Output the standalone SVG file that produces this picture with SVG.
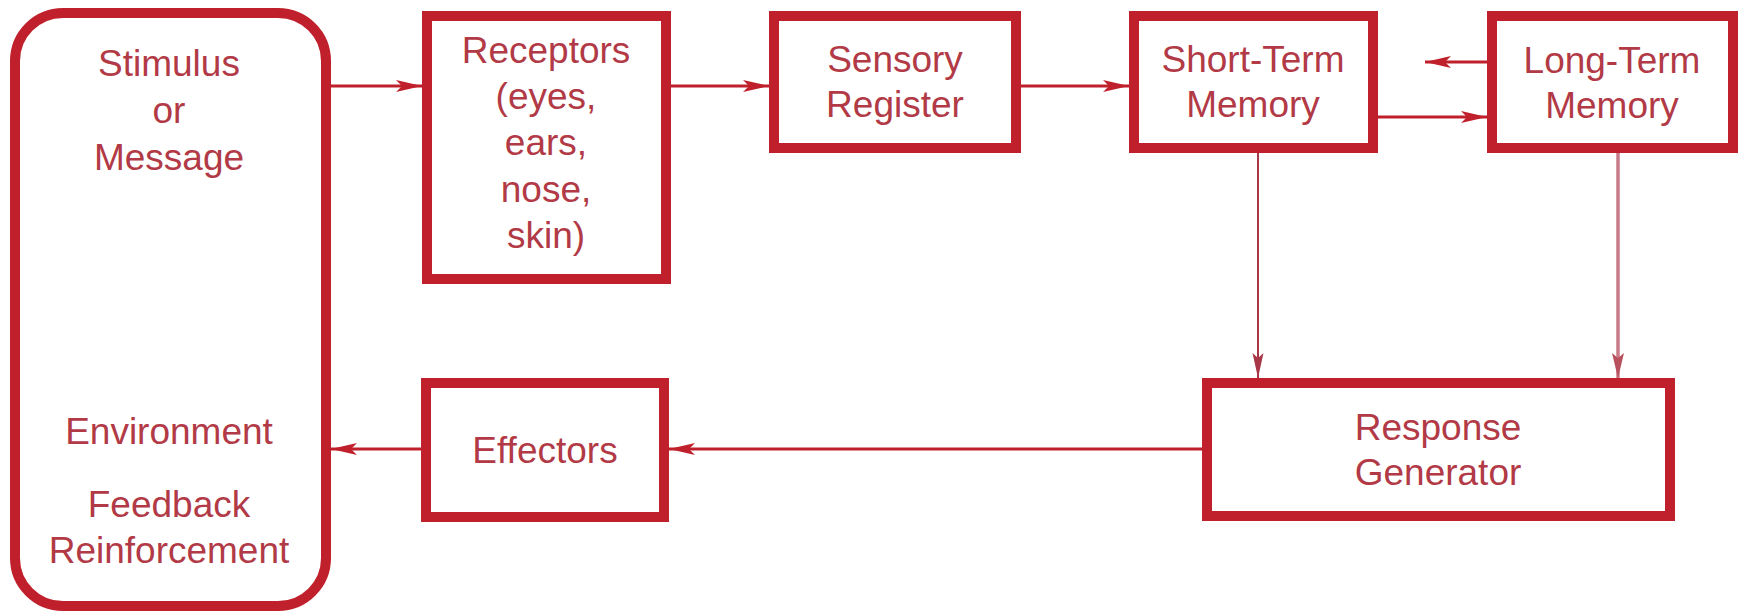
<svg xmlns="http://www.w3.org/2000/svg" width="1742" height="613" viewBox="0 0 1742 613">
<style>
.box{fill:#ffffff;stroke:#c0202b;stroke-width:10}
.t{font-family:"Liberation Sans",Arial,sans-serif;font-size:37px;fill:#b23a46;text-anchor:middle}
.c{fill:none;stroke:#c0202b;stroke-width:3}
.cv{fill:none;stroke:#a83848;stroke-width:2}
.cl{fill:none;stroke:#c87a86;stroke-width:3.5}
</style>
<defs>
<marker id="ah" markerUnits="userSpaceOnUse" markerWidth="28" markerHeight="14" refX="26" refY="6" orient="auto">
<path d="M0,0 L26,6 L0,12 L6,6 Z" fill="#c0202b"/>
</marker>
<marker id="av" markerUnits="userSpaceOnUse" markerWidth="28" markerHeight="14" refX="25" refY="5.5" orient="auto">
<path d="M0,0 L25,5.5 L0,11 L5,5.5 Z" fill="#a83848"/>
</marker>
<marker id="al" markerUnits="userSpaceOnUse" markerWidth="28" markerHeight="14" refX="25" refY="6" orient="auto">
<path d="M0,0 L25,6 L0,12 L5,6 Z" fill="#b8505e"/>
</marker>
</defs>
<rect width="1742" height="613" fill="#ffffff"/>
<g id="connectors">
<path class="c" d="M331,86 H422" marker-end="url(#ah)"/>
<path class="c" d="M671,86 H769" marker-end="url(#ah)"/>
<path class="c" d="M1021,86 H1129" marker-end="url(#ah)"/>
<path class="c" d="M1487,62 H1425" marker-end="url(#ah)"/>
<path class="c" d="M1378,117 H1487" marker-end="url(#ah)"/>
<path class="cv" d="M1258,153 V378" marker-end="url(#av)"/>
<path class="cl" d="M1618,153 V378" marker-end="url(#al)"/>
<path class="c" d="M1202,449 H669" marker-end="url(#ah)"/>
<path class="c" d="M421,449 H331" marker-end="url(#ah)"/>
</g>
<g id="stimulus">
<rect class="box" x="15" y="13" width="311" height="593" rx="48" ry="48"/>
<text class="t" x="169" y="76">Stimulus</text>
<text class="t" x="169" y="123">or</text>
<text class="t" x="169" y="170">Message</text>
<text class="t" x="169" y="444">Environment</text>
<text class="t" x="169" y="517">Feedback</text>
<text class="t" x="169" y="563">Reinforcement</text>
</g>
<g id="receptors">
<rect class="box" x="427" y="16" width="239" height="263"/>
<text class="t" x="546" y="63">Receptors</text>
<text class="t" x="546" y="109">(eyes,</text>
<text class="t" x="546" y="155">ears,</text>
<text class="t" x="546" y="202">nose,</text>
<text class="t" x="546" y="248">skin)</text>
</g>
<g id="sensory">
<rect class="box" x="774" y="16" width="242" height="132"/>
<text class="t" x="895" y="72">Sensory</text>
<text class="t" x="895" y="117">Register</text>
</g>
<g id="stm">
<rect class="box" x="1134" y="16" width="239" height="132"/>
<text class="t" x="1253" y="72">Short-Term</text>
<text class="t" x="1253" y="117">Memory</text>
</g>
<g id="ltm">
<rect class="box" x="1492" y="16" width="241" height="132"/>
<text class="t" x="1612" y="73">Long-Term</text>
<text class="t" x="1612" y="118">Memory</text>
</g>
<g id="effectors">
<rect class="box" x="426" y="383" width="238" height="134"/>
<text class="t" x="545" y="463">Effectors</text>
</g>
<g id="response">
<rect class="box" x="1207" y="383" width="463" height="133"/>
<text class="t" x="1438" y="440">Response</text>
<text class="t" x="1438" y="485">Generator</text>
</g>
</svg>
